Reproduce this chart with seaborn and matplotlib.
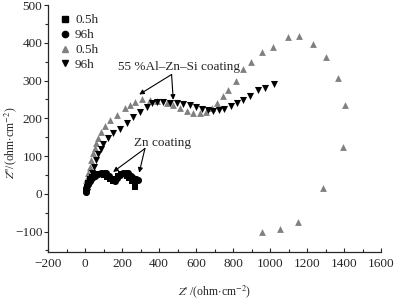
import matplotlib
matplotlib.use("Agg")
import matplotlib.pyplot as plt
import seaborn as sns
import pandas as pd
from matplotlib.ticker import MultipleLocator
from matplotlib.lines import Line2D

sns.set_theme(style="ticks")
plt.rcParams['font.family'] = ['Liberation Serif', 'DejaVu Serif']
plt.rcParams['mathtext.fontset'] = 'stix'

# Zn coating, 0.5h (squares)
zn05_x = [5, 10, 18, 28, 40, 55, 70, 88, 105, 120, 135, 150, 165, 180, 195, 210, 225, 240, 255, 268, 270]
zn05_y = [8, 18, 28, 38, 45, 50, 52, 52, 50, 45, 38, 34, 40, 48, 52, 52, 48, 42, 35, 30, 19]
# Zn coating, 96h (circles)
zn96_x = [3, 8, 15, 25, 38, 52, 68, 85, 100, 115, 130, 145, 160, 175, 190, 205, 220, 235, 250, 262, 275, 288]
zn96_y = [5, 15, 25, 35, 42, 48, 52, 55, 56, 54, 48, 40, 35, 42, 50, 55, 56, 54, 48, 42, 38, 36]
# 55%Al-Zn-Si coating, 0.5h (gray up triangles)
al05_x = [3, 8, 17, 26, 35, 44, 53, 62, 71, 89, 107, 134, 171, 215, 243, 270, 306, 351, 387, 441, 477,
          515, 550, 585, 620, 655, 687, 715, 748, 775, 815, 856, 896, 957, 1017, 1096, 1159, 1230,
          1300, 1365, 1407, 1392, 1284, 1154, 1055, 956]
al05_y = [10, 36, 54, 72, 90, 107, 122, 135, 147, 163, 179, 195, 209, 226, 235, 244, 250, 248, 246, 241, 235,
          228, 220, 215, 213, 216, 226, 241, 258, 276, 299, 330, 349, 376, 389, 416, 417, 398,
          361, 306, 234, 124, 16, -75, -93, -101]
# 55%Al-Zn-Si coating, 96h (black down triangles)
al96_x = [10, 20, 30, 40, 50, 60, 72, 84, 98, 125, 152, 188, 225, 260, 297, 333, 360, 387, 423, 459, 495,
          531, 567, 600, 635, 665, 694, 723, 753, 787, 820, 853, 892, 934, 973, 1022]
al96_y = [5, 20, 38, 55, 72, 90, 105, 119, 132, 147, 160, 173, 187, 204, 217, 231, 241, 244, 244, 241, 240,
          238, 234, 229, 225, 221, 219, 222, 225, 232, 240, 248, 259, 275, 281, 291]

labels = ["0.5h", "96h", "0.5h", "96h"]

fig = plt.figure(figsize=(3.95, 3.01), dpi=100)
ax = fig.add_axes([48/395, 1-252/301, (381-48)/395, (252-5)/301])

sns.scatterplot(x=al05_x, y=al05_y, ax=ax, marker='^', color='#808080', s=24, linewidth=0)
sns.scatterplot(x=al96_x, y=al96_y, ax=ax, marker='v', color='black', s=26, linewidth=0)
sns.scatterplot(x=zn96_x, y=zn96_y, ax=ax, marker='o', color='black', s=26, linewidth=0)
sns.scatterplot(x=zn05_x, y=zn05_y, ax=ax, marker='s', color='black', s=20, linewidth=0)

ax.set_xlim(-200, 1600)
ax.set_ylim(-154, 500)
ax.xaxis.set_major_locator(MultipleLocator(200))
ax.xaxis.set_minor_locator(MultipleLocator(100))
ax.yaxis.set_major_locator(MultipleLocator(100))
ax.yaxis.set_minor_locator(MultipleLocator(50))
ax.set_yticks([-100, 0, 100, 200, 300, 400, 500])
ax.tick_params(axis='x', which='major', direction='in', length=3, width=0.8, labelsize=9.5, pad=4)
ax.tick_params(axis='x', which='minor', direction='in', length=2, width=0.8)
ax.tick_params(axis='y', which='major', direction='out', length=3, width=0.8, labelsize=9.5, pad=1)
ax.tick_params(axis='y', which='minor', direction='out', length=2, width=0.8)
for s in ['top', 'right']:
    ax.spines[s].set_visible(False)
for s in ['left', 'bottom']:
    ax.spines[s].set_linewidth(0.9)
ax.set_xticklabels(['\u2212200' if v < 0 else str(int(v)) for v in ax.get_xticks()])
ax.set_yticklabels(['\u2212100' if v < 0 else str(int(v)) for v in ax.get_yticks()])

ax.set_xlabel(r"$Z$' /(ohm$\cdot$cm$^{-2}$)", fontsize=8.5)
ax.xaxis.set_label_coords(0.5, -0.125)
ax.set_ylabel(r"$Z$''/(ohm$\cdot$cm$^{-2}$)", fontsize=8.5)
ax.yaxis.set_label_coords(-0.088, 0.44)

handles = [
    Line2D([], [], marker='s', color='black', linestyle='none', markersize=4),
    Line2D([], [], marker='o', color='black', linestyle='none', markersize=4.5),
    Line2D([], [], marker='^', color='#808080', linestyle='none', markersize=4.5),
    Line2D([], [], marker='v', color='black', linestyle='none', markersize=5),
]
ax.legend(handles, labels, loc='upper left', bbox_to_anchor=(0.0, 1.0), frameon=False,
          fontsize=9.5, handletextpad=0.15, labelspacing=0.2, borderpad=0.2, handlelength=1.2)

ap = dict(arrowstyle='-|>', color='black', lw=0.8, mutation_scale=7, shrinkA=0, shrinkB=0)
ax.text(508, 336, "55 %Al\u2013Zn\u2013Si coating", ha='center', va='center', fontsize=9.5)
ax.annotate("", xy=(293, 263), xytext=(468, 316), arrowprops=ap)
ax.annotate("", xy=(477, 249), xytext=(468, 316), arrowprops=ap)
ax.text(419, 134, "Zn coating", ha='center', va='center', fontsize=9.5)
ax.annotate("", xy=(152, 58), xytext=(324, 120), arrowprops=ap)
ax.annotate("", xy=(293, 56), xytext=(324, 120), arrowprops=ap)

fig.savefig("out.png", dpi=100)
